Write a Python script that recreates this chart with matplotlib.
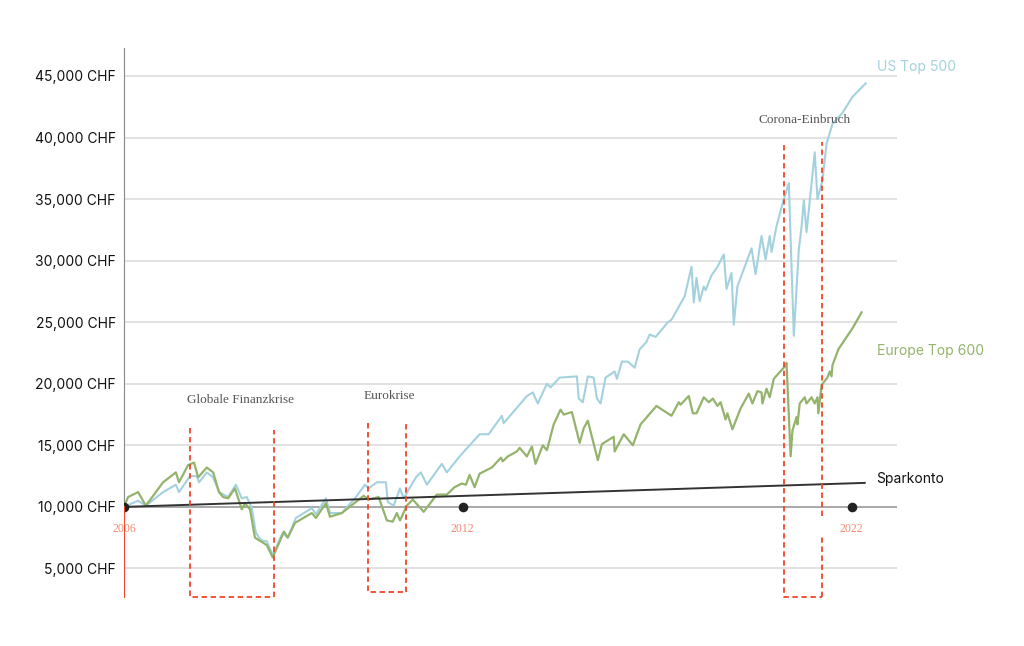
import matplotlib.pyplot as plt

# time in decimal years, values in CHF
us_years = [2006.00, 2006.31, 2006.48, 2006.86, 2007.14, 2007.21, 2007.45, 2007.60, 2007.65, 2007.82,
            2007.96, 2008.09, 2008.29, 2008.46, 2008.59, 2008.70, 2008.81, 2008.90, 2009.01, 2009.14,
            2009.27, 2009.49, 2009.60, 2009.78, 2010.13, 2010.22, 2010.44, 2010.53, 2010.79, 2011.08,
            2011.30, 2011.38, 2011.56, 2011.76, 2011.80, 2011.93, 2012.07, 2012.15, 2012.42, 2012.53,
            2012.66, 2012.99, 2013.10, 2013.38, 2013.82, 2014.02, 2014.31, 2014.35, 2014.86, 2014.99,
            2015.10, 2015.30, 2015.38, 2015.58, 2015.96, 2016.00, 2016.09, 2016.20, 2016.33, 2016.40,
            2016.48, 2016.59, 2016.79, 2016.84, 2016.95, 2017.08, 2017.23, 2017.34, 2017.49, 2017.56,
            2017.69, 2017.85, 2017.96, 2018.04, 2018.33, 2018.48, 2018.53, 2018.59, 2018.66, 2018.75,
            2018.79, 2018.92, 2019.05, 2019.19, 2019.25, 2019.36, 2019.41, 2019.49, 2019.80, 2019.89,
            2020.02, 2020.11, 2020.20, 2020.24, 2020.35, 2020.48, 2020.62, 2020.73, 2020.84, 2020.90,
            2020.95, 2021.01, 2021.19, 2021.25, 2021.36, 2021.45, 2021.58, 2021.80, 2022.02, 2022.31]
us_values = [10000, 10500, 10100, 11200, 11800, 11200, 12500, 12500, 12000, 12800,
             12400, 11200, 10800, 11800, 10700, 10800, 9900, 7900, 7300, 7200,
             6100, 7900, 7500, 9100, 9900, 9400, 10700, 9500, 9500, 10700,
             11800, 11500, 12000, 12000, 10400, 10100, 11500, 10700, 12400, 12800,
             11800, 13500, 12800, 14100, 15900, 15900, 17400, 16800, 19000, 19300,
             18400, 20000, 19700, 20500, 20600, 18800, 18500, 20600, 20500, 18800,
             18400, 20500, 21000, 20400, 21800, 21800, 21300, 22800, 23400, 24000,
             23800, 24500, 25000, 25200, 27100, 29500, 26600, 28600, 26700, 27900,
             27600, 28800, 29500, 30500, 27700, 29000, 24800, 27900, 31000, 28900,
             32000, 30100, 32000, 30700, 32800, 34600, 36300, 23900, 30900, 32700,
             34900, 32300, 38800, 35000, 36500, 39500, 41100, 42000, 43300, 44400]

eu_years = [2006.00, 2006.09, 2006.31, 2006.48, 2006.86, 2007.14, 2007.21, 2007.41, 2007.54, 2007.63,
            2007.82, 2007.96, 2008.09, 2008.18, 2008.29, 2008.44, 2008.59, 2008.66, 2008.77, 2008.88,
            2009.14, 2009.27, 2009.52, 2009.60, 2009.76, 2010.13, 2010.22, 2010.44, 2010.53, 2010.79,
            2011.27, 2011.38, 2011.60, 2011.78, 2011.91, 2012.00, 2012.07, 2012.22, 2012.35, 2012.59,
            2012.88, 2013.10, 2013.27, 2013.43, 2013.52, 2013.60, 2013.71, 2013.82, 2014.09, 2014.29,
            2014.33, 2014.44, 2014.64, 2014.70, 2014.86, 2014.97, 2015.05, 2015.21, 2015.30, 2015.45,
            2015.60, 2015.67, 2015.85, 2016.02, 2016.11, 2016.20, 2016.42, 2016.51, 2016.77, 2016.79,
            2016.99, 2017.19, 2017.36, 2017.71, 2018.04, 2018.20, 2018.24, 2018.42, 2018.51, 2018.59,
            2018.75, 2018.86, 2018.95, 2019.05, 2019.12, 2019.23, 2019.27, 2019.38, 2019.56, 2019.74,
            2019.82, 2019.93, 2020.02, 2020.04, 2020.13, 2020.20, 2020.29, 2020.53, 2020.57, 2020.66,
            2020.70, 2020.79, 2020.81, 2020.86, 2020.97, 2021.01, 2021.12, 2021.19, 2021.25, 2021.27,
            2021.34, 2021.47, 2021.52, 2021.56, 2021.58, 2021.71, 2022.02, 2022.22]
eu_values = [10000, 10800, 11200, 10100, 12000, 12800, 12000, 13400, 13600, 12400,
             13200, 12800, 11200, 10800, 10700, 11500, 9800, 10300, 9800, 7500,
             6900, 5900, 8000, 7500, 8700, 9500, 9100, 10300, 9200, 9500,
             10900, 10600, 10800, 8900, 8800, 9500, 8900, 10100, 10600, 9600,
             11000, 11000, 11600, 11900, 11800, 12600, 11600, 12700, 13200, 14000,
             13700, 14100, 14500, 14800, 14100, 14900, 13500, 15000, 14600, 16700,
             17900, 17500, 17700, 15200, 16400, 17000, 13800, 15100, 15700, 14500,
             15900, 15000, 16700, 18200, 17400, 18500, 18300, 19000, 17600, 17600,
             18900, 18500, 18800, 18200, 18500, 17100, 17600, 16300, 18000, 19200,
             18400, 19400, 19300, 18400, 19600, 18900, 20400, 21400, 21700, 14100,
             16200, 17300, 16700, 18400, 18900, 18400, 18900, 18400, 18900, 17600,
             19900, 20500, 21000, 20600, 21500, 22800, 24500, 25800]

spar_years = [2006.00, 2022.29]
spar_values = [10000, 11950]

marker_years = [2006.0, 2013.45, 2022.0]
marker_labels = ["2006", "2012", "2022"]

yticks = [5000, 10000, 15000, 20000, 25000, 30000, 35000, 40000, 45000]

# crisis boxes: left year, right year, top left, top right, bottom
crises = [("Globale Finanzkrise", 2007.45, 2009.30, 16400, 16250, 2700, 2007.38, 18200),
          ("Eurokrise", 2011.36, 2012.20, 16800, 16700, 3100, 2011.26, 18500),
          ("Corona-Einbruch", 2020.51, 2021.34, 39400, 39600, 2700, 2019.95, 40900)]

blue = "#a3d2de"
green = "#94b36c"
red = "#f2462a"
salmon = "#f58a72"

fig = plt.figure(figsize=(10.24, 6.46), dpi=100)
ax = fig.add_axes([0.1211, 0.0743, 0.7549, 0.8514])
ax.set_xlim(2006, 2023)
ax.set_ylim(2600, 47270)

for v in yticks:
    ax.axhline(v, color="#999999" if v == 10000 else "#dddddd", lw=1.2, zorder=1)

ax.plot(us_years, us_values, color=blue, lw=1.5, zorder=3)
ax.plot(eu_years, eu_values, color=green, lw=1.6, zorder=3)
ax.plot(spar_years, spar_values, color="#333333", lw=1.4, zorder=4)

for name, x0, x1, t0, t1, b, tx, ty in crises:
    kw = dict(color=red, lw=1.3, ls=(0, (3, 2)), zorder=5)
    ax.plot([x0, x0, x1], [t0, b, b], **kw)
    if name == "Corona-Einbruch":
        ax.plot([x1, x1], [b, 7600], **kw)
        ax.plot([x1, x1], [9300, t1], **kw)
    else:
        ax.plot([x1, x1], [b, t1], **kw)
    ax.text(tx, ty, name, fontsize=9.5, family="Liberation Serif", color="#555555",
            ha="left", va="bottom")

ax.scatter(marker_years, [10000] * 3, s=35, color="#222222", zorder=6)
for x, lab in zip(marker_years, marker_labels):
    ax.text(x, 8700, lab, fontsize=8.5, family="Liberation Serif", color=salmon,
            ha="center", va="top")

ax.plot([2006, 2006], [2600, 10000], color=red, lw=1.5, zorder=6)

ax.text(2022.55, 45700, "US Top 500", color=blue, fontsize=10, family="Inter", va="center")
ax.text(2022.55, 22700, "Europe Top 600", color=green, fontsize=10, family="Inter", va="center")
ax.text(2022.55, 12300, "Sparkonto", color="#111111", fontsize=10, family="Inter", va="center")

for s in ["top", "right", "bottom"]:
    ax.spines[s].set_visible(False)
ax.spines["left"].set_color("#888888")
ax.spines["left"].set_bounds(10000, 47270)
ax.set_xticks([])
ax.set_yticks(yticks)
ax.set_yticklabels([f"{v:,} CHF" for v in yticks], family="Inter", fontsize=10, color="#111111")
ax.tick_params(axis="y", length=0, pad=6)

fig.savefig("out.png", dpi=100)
